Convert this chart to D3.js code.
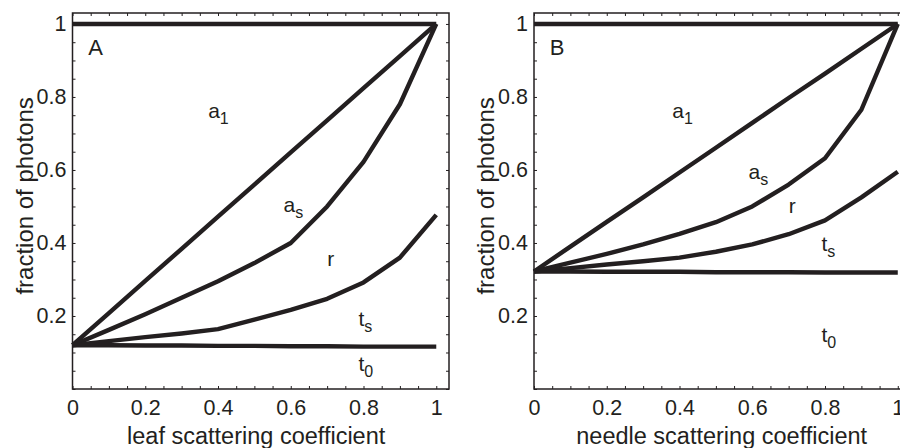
<!DOCTYPE html>
<html>
<head>
<meta charset="utf-8">
<script src="https://cdn.jsdelivr.net/npm/d3@7"></script>
<style>
  body { margin: 0; background: #fff; }
  text { font-family: "Liberation Sans", Arial, sans-serif; fill: #231f20; }
</style>
</head>
<body>
<div class="canva"></div>
<script>
// scattering coefficient (x) shared by both panels
const scatter = [0, 0.1, 0.2, 0.3, 0.4, 0.5, 0.6, 0.7, 0.8, 0.9, 1];

// panel A - leaf
const leafTop = [1, 1, 1, 1, 1, 1, 1, 1, 1, 1, 1];
const leafLine = [0.12, 0.208, 0.296, 0.384, 0.472, 0.56, 0.648, 0.736, 0.824, 0.912, 1];
const leafAs = [0.12, 0.162, 0.205, 0.25, 0.295, 0.345, 0.4, 0.5, 0.622, 0.78, 1];
const leafR = [0.12, 0.131, 0.142, 0.152, 0.164, 0.19, 0.217, 0.247, 0.292, 0.36, 0.477];
const leafT0 = [0.12, 0.12, 0.119, 0.119, 0.118, 0.118, 0.117, 0.117, 0.116, 0.116, 0.116];

// panel B - needle
const needleTop = [1, 1, 1, 1, 1, 1, 1, 1, 1, 1, 1];
const needleLine = [0.322, 0.39, 0.458, 0.525, 0.593, 0.661, 0.729, 0.797, 0.864, 0.932, 1];
const needleAs = [0.322, 0.346, 0.37, 0.396, 0.425, 0.457, 0.5, 0.56, 0.632, 0.765, 1];
const needleR = [0.322, 0.331, 0.341, 0.35, 0.36, 0.376, 0.396, 0.424, 0.462, 0.525, 0.595];
const needleT0 = [0.322, 0.322, 0.321, 0.321, 0.321, 0.32, 0.32, 0.32, 0.319, 0.319, 0.319];

const xTicks = [0, 0.2, 0.4, 0.6, 0.8, 1];
const yTicks = [0.2, 0.4, 0.6, 0.8, 1];
const minorTicks = d3.range(0, 1.0001, 0.05);

const panels = [
  {letter: "A", xTitle: "leaf scattering coefficient", left: 72.5, titleAt: 0.505,
   series: [leafTop, leafLine, leafAs, leafR, leafT0],
   labels: [
     {t: "a", s: "1", x: 0.373, y: 0.742},
     {t: "a", s: "s", x: 0.58, y: 0.485},
     {t: "r", s: "", x: 0.70, y: 0.337},
     {t: "t", s: "s", x: 0.786, y: 0.173},
     {t: "t", s: "0", x: 0.786, y: 0.049}
   ]},
  {letter: "B", xTitle: "needle scattering coefficient", left: 534, titleAt: 0.516,
   series: [needleTop, needleLine, needleAs, needleR, needleT0],
   labels: [
     {t: "a", s: "1", x: 0.38, y: 0.742},
     {t: "a", s: "s", x: 0.59, y: 0.575},
     {t: "r", s: "", x: 0.70, y: 0.482},
     {t: "t", s: "s", x: 0.79, y: 0.378},
     {t: "t", s: "0", x: 0.79, y: 0.129}
   ]}
];

const svg = d3.select(".canva").append("svg")
  .attr("width", 900)
  .attr("height", 448);

const ink = "#231f20";
const plotTop = 13, plotBottom = 389, plotW = 376.5;

panels.forEach(function(p) {
  const x = d3.scaleLinear().domain([0, 1.035]).range([p.left, p.left + plotW]);
  const y = d3.scaleLinear().domain([0, 1.03]).range([plotBottom, plotTop]);
  const g = svg.append("g");

  // minor ticks on all four sides, pointing inward
  const sides = [
    [d3.axisBottom(x), `translate(0,${plotBottom})`],
    [d3.axisTop(x), `translate(0,${plotTop})`],
    [d3.axisLeft(y), `translate(${p.left},0)`],
    [d3.axisRight(y), `translate(${p.left + plotW},0)`]
  ];
  sides.forEach(function(s) {
    const ax = g.append("g").attr("transform", s[1])
      .call(s[0].tickValues(minorTicks).tickSize(-3).tickFormat(""));
    ax.select(".domain").remove();
    ax.selectAll("line").attr("stroke", ink).attr("stroke-width", 1);
  });

  // tick labels
  const xAx = g.append("g").attr("transform", `translate(0,${plotBottom})`)
    .call(d3.axisBottom(x).tickValues(xTicks).tickSize(0).tickPadding(11).tickFormat(d3.format("")));
  xAx.select(".domain").remove();
  xAx.selectAll("text").style("font-size", "21.5px").attr("fill", ink);

  const yAx = g.append("g").attr("transform", `translate(${p.left},0)`)
    .call(d3.axisLeft(y).tickValues(yTicks).tickSize(0).tickPadding(6).tickFormat(d3.format("")));
  yAx.select(".domain").remove();
  yAx.selectAll("text").style("font-size", "21.5px").attr("fill", ink);

  // frame
  g.append("rect")
    .attr("x", p.left).attr("y", plotTop)
    .attr("width", plotW).attr("height", plotBottom - plotTop)
    .attr("fill", "none").attr("stroke", ink).attr("stroke-width", 1.5);

  // curves
  const line = d3.line()
    .x(function(d, i) { return x(scatter[i]); })
    .y(function(d) { return y(d); });

  g.selectAll("path.curve")
    .data(p.series)
    .enter()
    .append("path")
    .attr("class", "curve")
    .attr("d", line)
    .attr("fill", "none")
    .attr("stroke", ink)
    .attr("stroke-width", 4.4)
    .attr("stroke-linejoin", "round");

  // region labels
  p.labels.forEach(function(l) {
    const t = g.append("text")
      .attr("x", x(l.x)).attr("y", y(l.y))
      .style("font-size", "21px")
      .text(l.t);
    if (l.s) {
      t.append("tspan").attr("dy", 6).style("font-size", "16px").text(l.s);
    }
  });

  g.append("text")
    .attr("x", x(0.043)).attr("y", y(0.915))
    .style("font-size", "22px")
    .text(p.letter);

  // axis titles
  g.append("text")
    .attr("x", x(p.titleAt)).attr("y", 444)
    .attr("text-anchor", "middle")
    .style("font-size", "23.5px")
    .text(p.xTitle);

  g.append("text")
    .attr("transform", `translate(${p.left - 40},${y(0.529)}) rotate(-90)`)
    .attr("text-anchor", "middle")
    .style("font-size", "24px")
    .text("fraction of photons");
});
</script>
</body>
</html>
